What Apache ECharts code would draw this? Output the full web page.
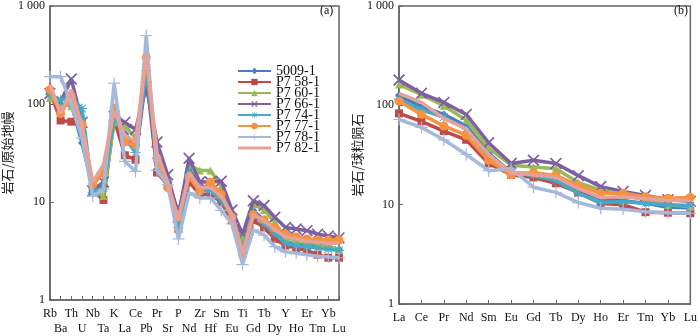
<!DOCTYPE html>
<html>
<head>
<meta charset="utf-8">
<script src="https://cdn.jsdelivr.net/npm/echarts@6/dist/echarts.min.js"></script>
<style>
  html, body { margin: 0; padding: 0; background: #fff; }
  #chart { width: 700px; height: 336px; }
</style>
</head>
<body>
<div id="chart"></div>
<script>
// 微量元素原始地幔标准化蛛网图 (a) + 稀土元素球粒陨石标准化配分图 (b)
var spiderElems = ['Rb','Ba','Th','U','Nb','Ta','K','La','Ce','Pb','Pr','Sr','P','Nd','Zr','Hf','Sm','Eu','Ti','Gd','Tb','Dy','Y','Ho','Er','Tm','Yb','Lu'];
var reeElems = ['La','Ce','Pr','Nd','Sm','Eu','Gd','Tb','Dy','Ho','Er','Tm','Yb','Lu'];
var sampleNames = ['5009-1','P7 58-1','P7 60-1','P7 66-1','P7 74-1','P7 77-1','P7 78-1','P7 82-1'];
var yTicks = [1, 10, 100, 1000];

var spider5009 = [125,95,100,40,14,15,72,50,36,250,30,17,7.8,22,14,13.5,11.5,7.5,3.5,8.2,6.5,5.0,3.9,3.7,3.6,3.5,3.4,3.3];
var spider58 = [135,68,66,62,13,10.5,70,30,27,200,20,15,5.3,16,12,12,10,6.5,3.0,6.5,5.5,4.2,3.6,3.4,3.2,2.9,2.7,2.7];
var spider60 = [115,100,95,48,13,11.5,65,60,45,210,35,16,6.2,24,21,21,14.5,8,4.0,9.5,8.3,6.2,4.3,4.1,3.9,3.7,3.5,3.3];
var spider66 = [128,105,180,65,13,16,75,65,55,150,41,19,7,28,16,16,16.3,8.3,4.7,10.3,9.2,7.0,5.5,5.3,5.1,4.7,4.5,4.3];
var spider74 = [125,110,115,90,12.5,14,75,45,32,220,28,16,5.5,20,13,13,10.5,7.2,3.3,7.5,6.0,4.8,3.8,3.6,3.5,3.4,3.3,3.2];
var spider77 = [140,80,120,62,15,20,91,41,38,300,28,14,7,18,13,16,12,7,3.0,7.4,6.6,5.5,4.7,4.4,4.2,4.1,4.1,4.1];
var spider78 = [190,190,100,45,11.5,13.5,163,26,20.5,500,21,15,4.2,12.4,11,11,8.2,6,2.3,5.2,4.6,3.5,3.1,3.0,2.9,2.8,2.75,2.7];
var spider82 = [159,80,140,60,16,24,85,48,41,330,32,16,6.5,20,14,14,11.5,7.5,3.0,7.4,6.5,5.2,4.4,4.2,4.0,3.9,3.8,3.8];

var ree5009 = [126,97,81,62,33,21,20.5,18.7,14,11.5,11,10.3,9.4,9.3];
var ree58 = [83,69,55,45,26,20,18.8,16.4,13.3,10.3,10,8.4,8.3,8.2];
var ree60 = [162,128,99,71,37,25,24,23,16.7,14,12.5,11.2,10,9.6];
var ree66 = [180,132,107,81,42,26,28,26,19.6,15.2,13.6,12.4,11.2,10.8];
var ree74 = [115,90,76,58,31,21,19.6,17.5,13,10.5,10.7,10.3,10,9.8];
var ree77 = [110,81,62,50,28,20,21,19.7,15.6,13,13,12,11.6,11.8];
var ree78 = [72,60,45,32,22,23,15,13.3,10.5,9.2,9,8.5,8.3,8.2];
var ree82 = [132,107,74,58,32,21,20,19,14.5,11.8,12,11.5,11,11];

(function() {
  var spiderData = [spider5009, spider58, spider60, spider66, spider74, spider77, spider78, spider82];
  var reeData = [ree5009, ree58, ree60, ree66, ree74, ree77, ree78, ree82];

  var colors = ['#4A7EBB', '#BE4B48', '#98B954', '#7D60A0', '#46AAC5', '#F69240', '#A5B9DB', '#E6A19B'];
  var xMark = 'path://M1,0L5,4L9,0L10,1L6,5L10,9L9,10L5,6L1,10L0,9L4,5L0,1Z';
  var plusMark = 'path://M4.5,0H5.5V4.5H10V5.5H5.5V10H4.5V5.5H0V4.5H4.5Z';
  var starMark = 'path://M4.5,0H5.5V4.5H10V5.5H5.5V10H4.5V5.5H0V4.5H4.5ZM1.5,0.8L5,4.3L8.5,0.8L9.2,1.5L5.7,5L9.2,8.5L8.5,9.2L5,5.7L1.5,9.2L0.8,8.5L4.3,5L0.8,1.5Z';
  var symbols = ['diamond', 'rect', 'triangle', xMark, starMark, 'circle', plusMark, 'none'];
  var sizes = [8, 8, 8, 12, 10, 9, 12, 0];

  var serif = '"Liberation Serif", "Times New Roman", serif';
  var cjk = '"Noto Sans CJK SC", sans-serif';
  var axisColor = '#666';

  function yAxis(gridIndex, name, gap) {
    return {
      type: 'log',
      logBase: 10,
      gridIndex: gridIndex,
      min: 1,
      max: 1000,
      name: name,
      nameLocation: 'middle',
      nameGap: gap,
      nameRotate: 90,
      nameTextStyle: { fontFamily: cjk, fontSize: 13, color: '#222' },
      axisLine: { show: true, lineStyle: { color: axisColor, width: 1.5 } },
      axisTick: { show: true, inside: true, length: 4, lineStyle: { color: axisColor } },
      axisLabel: {
        fontFamily: serif, fontSize: 12, color: '#111', margin: 5,
        formatter: function(v) { return v === 1000 ? '1 000' : String(v); },
        customValues: yTicks
      },
      splitLine: { show: false }
    };
  }

  function xAxis(gridIndex, cats, twoRows) {
    return {
      type: 'category',
      gridIndex: gridIndex,
      data: cats,
      boundaryGap: false,
      axisLine: { show: true, lineStyle: { color: axisColor, width: 1.5 } },
      axisTick: { show: true, inside: true, length: 4, interval: 0, lineStyle: { color: axisColor } },
      axisLabel: {
        interval: 0,
        fontFamily: serif,
        fontSize: 12,
        lineHeight: 15,
        color: '#111',
        margin: 6,
        formatter: function(v, i) { return twoRows && i % 2 === 1 ? '\n' + v : v; }
      },
      splitLine: { show: false }
    };
  }

  var series = [];
  sampleNames.forEach(function(name, k) {
    var base = {
      name: name,
      type: 'line',
      symbol: symbols[k],
      symbolSize: sizes[k],
      showSymbol: symbols[k] !== 'none',
      lineStyle: { width: 3.5, color: colors[k] },
      itemStyle: { color: colors[k] },
      z: 2 + k
    };
    series.push(Object.assign({}, base, { xAxisIndex: 0, yAxisIndex: 0, data: spiderData[k] }));
    series.push(Object.assign({}, base, { xAxisIndex: 1, yAxisIndex: 1, data: reeData[k] }));
  });

  // 图例：最后一个样品只有线，没有符号（上下两个极小点撑开包围盒，线保持细）
  var lineOnlyIcon = 'path://M0,0L0.01,0L0.01,0.01ZM0,2.5H33V5.5H0ZM0,8L0.01,8L0.01,7.99Z';
  var legendData = sampleNames.map(function(name, k) {
    if (symbols[k] === 'none') {
      return { name: name, icon: lineOnlyIcon };
    }
    return name;
  });

  var chart = echarts.init(document.getElementById('chart'), null, { renderer: 'canvas' });
  chart.setOption({
    animation: false,
    backgroundColor: '#fff',
    color: colors,
    grid: [
      { left: 44, right: 361, top: 5, bottom: 32, show: true, borderColor: axisColor, borderWidth: 1.5 },
      { left: 399, right: 7, top: 5, bottom: 32, show: true, borderColor: axisColor, borderWidth: 1.5 }
    ],
    xAxis: [xAxis(0, spiderElems, true), xAxis(1, reeElems, false)],
    yAxis: [yAxis(0, '岩石/原始地幔', 27), yAxis(1, '岩石/球粒陨石', 23)],
    legend: {
      data: legendData,
      orient: 'vertical',
      left: 237,
      top: 64,
      padding: 0,
      itemWidth: 33,
      itemHeight: 8,
      itemGap: -3,
      textStyle: { fontFamily: serif, fontSize: 14, lineHeight: 10, color: '#111' }
    },
    graphic: [
      { type: 'text', left: 320, top: 5, style: { text: '(a)', font: '12px ' + serif, fill: '#111' } },
      { type: 'text', left: 674, top: 5, style: { text: '(b)', font: '12px ' + serif, fill: '#111' } }
    ],
    series: series
  });
})();
</script>
</body>
</html>
